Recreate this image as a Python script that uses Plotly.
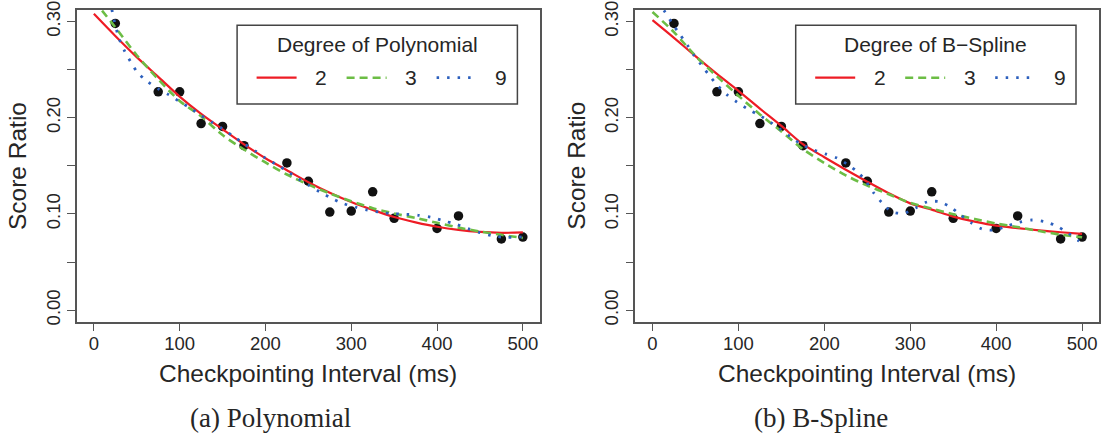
import plotly.graph_objects as go

W, H = 1104, 437

# Observed score ratios per checkpointing interval
interval_ms = [25, 75, 100, 125, 150, 175, 225, 250, 275, 300, 325, 350, 400, 425, 475, 500]
score_ratio = [0.298, 0.227, 0.227, 0.194, 0.191, 0.171, 0.153, 0.134, 0.102, 0.103,
               0.123, 0.0955, 0.085, 0.098, 0.074, 0.076]

# Fitted curves, sampled along the interval axis
fit_x = [0, 25, 50, 75, 100, 125, 150, 175, 200, 225, 250, 275, 300, 325, 350,
         375, 400, 425, 450, 475, 500]
poly2_y = [0.308, 0.285, 0.263, 0.2425, 0.222, 0.204, 0.188, 0.1723, 0.1579, 0.1455,
           0.133, 0.122, 0.1124, 0.1042, 0.0968, 0.0913, 0.0867, 0.0834, 0.0813,
           0.0804, 0.0808]
poly3_y = [0.322, 0.294, 0.265, 0.240, 0.2175, 0.2015, 0.182, 0.167, 0.1535, 0.141,
           0.1305, 0.1213, 0.1133, 0.106, 0.1005, 0.0958, 0.0908, 0.0858, 0.0818,
           0.0783, 0.0750]
poly9_x = [15, 22, 29.5, 36, 43, 51, 62, 75, 88, 100, 113, 125, 138, 150, 163, 175,
           188, 200, 213, 226, 238, 251, 264, 277, 290, 305, 319, 334, 348, 363, 378,
           393, 407, 422, 436, 450, 464, 479, 493, 500]
poly9_y = [0.345, 0.308, 0.282, 0.269, 0.258, 0.247, 0.238, 0.230, 0.2236, 0.2167,
           0.2097, 0.2024, 0.1951, 0.1885, 0.1805, 0.1729, 0.1656, 0.158, 0.1514,
           0.1441, 0.1368, 0.1295, 0.1226, 0.1163, 0.1111, 0.107, 0.104, 0.1017,
           0.1003, 0.0997, 0.0986, 0.0965, 0.093, 0.0893, 0.0847, 0.0806, 0.0774,
           0.0757, 0.0757, 0.0762]

bspl2_y = [0.3014, 0.283, 0.264, 0.2455, 0.228, 0.2095, 0.1915, 0.1725, 0.159, 0.146,
           0.1335, 0.1215, 0.111, 0.1045, 0.0972, 0.092, 0.0878, 0.0853, 0.083,
           0.081, 0.0792]
bspl3_y = [0.310, 0.289, 0.2643, 0.243, 0.2229, 0.2035, 0.1858, 0.1674, 0.153, 0.140,
           0.1295, 0.1205, 0.1115, 0.1055, 0.0997, 0.0948, 0.0900, 0.0864, 0.0822,
           0.0785, 0.0757]
bspl9_x = [0, 8, 14.8, 23, 31.4, 40, 48.5, 57.4, 66.3, 75.6, 86.5, 98.8, 111, 124.4,
           137, 149, 161, 174, 187, 201, 215, 227, 239.5, 249, 257.5, 267, 278.4,
           292.7, 306.3, 319.8, 333.8, 347, 358.6, 370.6, 383.7, 398.5, 412.8, 426.7,
           441.5, 456.3, 470.2, 483, 495.3, 500]
bspl9_y = [0.33, 0.318, 0.3097, 0.298, 0.2872, 0.2764, 0.2646, 0.2542, 0.2438, 0.2337,
           0.224, 0.216, 0.209, 0.2026, 0.1956, 0.1877, 0.18, 0.1719, 0.1667, 0.1625,
           0.158, 0.1514, 0.143, 0.1332, 0.1218, 0.1118, 0.1024, 0.1007, 0.1063,
           0.1125, 0.1128, 0.107, 0.099, 0.091, 0.0844, 0.0833, 0.0875, 0.0913,
           0.0937, 0.092, 0.0875, 0.0806, 0.0726, 0.069]

x_ticks = [0, 100, 200, 300, 400, 500]
y_ticks = [0.00, 0.05, 0.10, 0.15, 0.20, 0.25, 0.30]
y_tick_text = ["0.00", "", "0.10", "", "0.20", "", "0.30"]
degree_labels = ["2", "3", "9"]
legend_titles = ["Degree of Polynomial", "Degree of B\u2212Spline"]
captions = ["(a) Polynomial", "(b) B-Spline"]
x_title = "Checkpointing Interval (ms)"
y_title = "Score Ratio"

# Styling
SANS = "Liberation Sans, Arial, sans-serif"
SERIF = "Liberation Serif, Times New Roman, serif"
TEXT = "#262626"
FRAME = "#555555"
RED = "#ee1c25"
GREEN = "#6cbd45"
BLUE = "#2c5fbd"
STYLES = [
    dict(color=RED, width=2.2, dash="solid"),
    dict(color=GREEN, width=2.6, dash="8px,5px"),
    dict(color=BLUE, width=2.8, dash="2.5px,8px"),
]

# Panel boxes in pixels: left, top, right, bottom
PANELS = [(76.7, 10, 540.0, 321.7), (635.3, 10, 1099.3, 321.7)]


def fx(px):
    return px / W


def fy(py):
    return 1 - py / H


fig = go.Figure()

panel_curves = [
    [(fit_x, poly2_y), (fit_x, poly3_y), (poly9_x, poly9_y)],
    [(fit_x, bspl2_y), (fit_x, bspl3_y), (bspl9_x, bspl9_y)],
]

for i, curves in enumerate(panel_curves):
    xa = "x" if i == 0 else "x2"
    ya = "y" if i == 0 else "y2"
    fig.add_trace(go.Scatter(
        x=interval_ms, y=score_ratio, mode="markers", xaxis=xa, yaxis=ya,
        marker=dict(color="#111111", size=9.5, line=dict(width=0)),
        showlegend=False, hoverinfo="skip"))
    for (cx, cy), st in zip(curves, STYLES):
        fig.add_trace(go.Scatter(
            x=cx, y=cy, mode="lines", xaxis=xa, yaxis=ya,
            line=dict(color=st["color"], width=st["width"], dash=st["dash"],
                      shape="spline", smoothing=0.8),
            showlegend=False, hoverinfo="skip"))

axis_common = dict(
    showline=True, mirror=True, linecolor=FRAME, linewidth=1.5,
    showgrid=False, zeroline=False, ticks="outside", ticklen=8, tickwidth=1.3,
    tickcolor=FRAME, tickfont=dict(family=SANS, size=18.5, color=TEXT),
    fixedrange=True, automargin=False,
)

layout_axes = {}
for i, (l, t, r, b) in enumerate(PANELS):
    sx = "" if i == 0 else "2"
    layout_axes["xaxis" + sx] = dict(
        axis_common, domain=[fx(l), fx(r)], range=[-20, 520],
        tickvals=x_ticks, anchor="y" + sx, ticklabelstandoff=-4)
    layout_axes["yaxis" + sx] = dict(
        axis_common, domain=[fy(b), fy(t)], range=[-0.012, 0.312],
        tickvals=y_ticks, ticktext=y_tick_text, tickangle=-90,
        anchor="x" + sx)

shapes = []
annotations = []
for i, (l, t, r, b) in enumerate(PANELS):
    cx = (l + r) / 2
    cy = (t + b) / 2
    annotations.append(dict(
        text=x_title, x=fx(cx), y=fy(373), xref="paper", yref="paper",
        xanchor="center", yanchor="middle", showarrow=False,
        font=dict(family=SANS, size=24.5, color=TEXT)))
    annotations.append(dict(
        text=y_title, x=fx(l - 58.5), y=fy(cy), xref="paper", yref="paper",
        xanchor="center", yanchor="middle", showarrow=False, textangle=-90,
        font=dict(family=SANS, size=24.5, color=TEXT)))
    cap_x = 270 if i == 0 else 821
    annotations.append(dict(
        text=captions[i], x=fx(cap_x), y=fy(418), xref="paper", yref="paper",
        xanchor="center", yanchor="middle", showarrow=False,
        font=dict(family=SERIF, size=27, color=TEXT)))

    # Legend box with title and three line samples
    lg_l = l + 160.4
    lg_r = lg_l + 280.3
    lg_t, lg_b = 25.3, 104.0
    shapes.append(dict(
        type="rect", xref="paper", yref="paper",
        x0=fx(lg_l), x1=fx(lg_r), y0=fy(lg_b), y1=fy(lg_t),
        line=dict(color="#444444", width=1.5), fillcolor="white", layer="above"))
    annotations.append(dict(
        text=legend_titles[i], x=fx((lg_l + lg_r) / 2), y=fy(44.5),
        xref="paper", yref="paper", xanchor="center", yanchor="middle",
        showarrow=False, font=dict(family=SANS, size=21, color=TEXT)))
    row_y = 77.7
    for k, st in enumerate(STYLES):
        s0 = lg_l + 19.5 + 90 * k
        shapes.append(dict(
            type="line", xref="paper", yref="paper",
            x0=fx(s0), x1=fx(s0 + 40), y0=fy(row_y), y1=fy(row_y),
            line=dict(color=st["color"], width=st["width"], dash=st["dash"]),
            layer="above"))
        annotations.append(dict(
            text=degree_labels[k], x=fx(lg_l + 84 + 90 * k), y=fy(row_y),
            xref="paper", yref="paper", xanchor="center", yanchor="middle",
            showarrow=False, font=dict(family=SANS, size=21, color=TEXT)))

fig.update_layout(
    width=W, height=H,
    margin=dict(l=0, r=0, t=0, b=0),
    paper_bgcolor="white", plot_bgcolor="white",
    showlegend=False,
    shapes=shapes, annotations=annotations,
    **layout_axes,
)

fig.write_html("out.html", config={"displayModeBar": False})
